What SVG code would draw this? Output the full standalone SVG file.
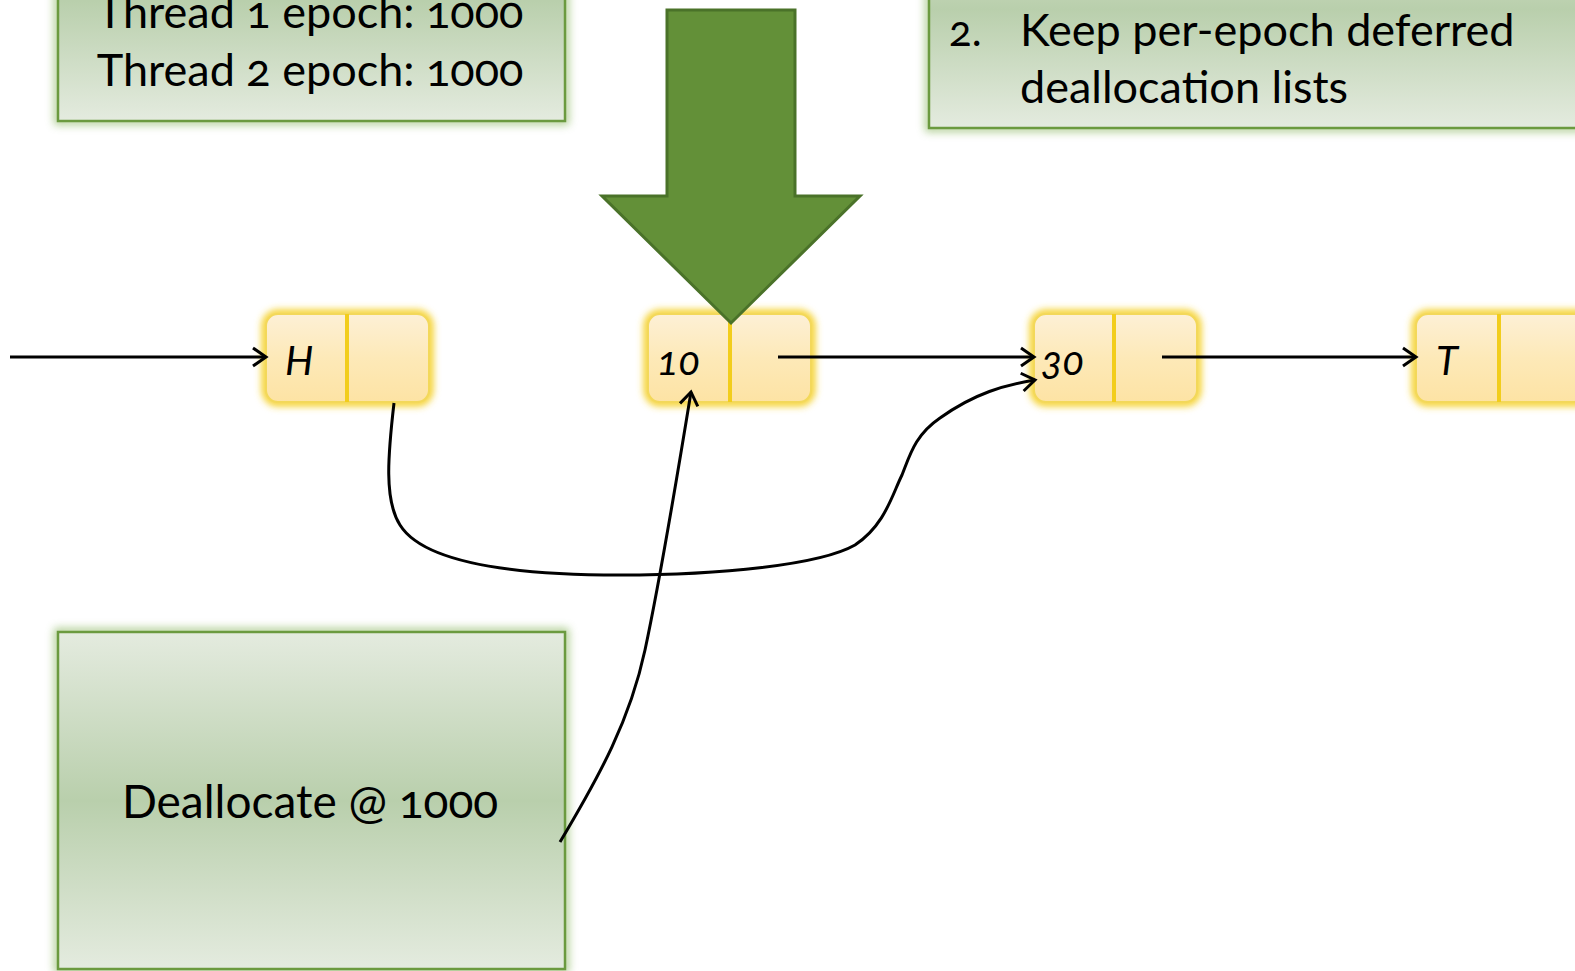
<svg xmlns="http://www.w3.org/2000/svg" width="1575" height="971" viewBox="0 0 1575 971">
<style>
.box{fill:url(#gBox);stroke:#6b9a3f;stroke-width:2.5}
.boxglow{fill:none;stroke:#9ec27a;stroke-width:8;filter:url(#blur4);opacity:0.8}
.txt{font-family:Lato,"Open Sans","Liberation Sans",sans-serif;fill:#000;font-variant-numeric:oldstyle-nums;font-feature-settings:"onum"}
.lbl{font-family:Lato,"Open Sans","Liberation Sans",sans-serif;font-style:italic;font-size:40px;fill:#000;font-feature-settings:"onum"}
.nglow{fill:none;stroke:#f5d12e;stroke-width:9;filter:url(#blur3)}
.nbody{fill:url(#gNode);stroke:#f3d85a;stroke-width:2}
.ndiv{fill:#f2cd1c}
.conn{fill:none;stroke:#000;stroke-width:3;marker-end:url(#arr)}
</style>
<defs>
<linearGradient id="gBox" x1="0" y1="0" x2="0" y2="1">
<stop offset="0" stop-color="#e4ebdf"/>
<stop offset="0.5" stop-color="#b9cfac"/>
<stop offset="1" stop-color="#e4ebdf"/>
</linearGradient>
<linearGradient id="gNode" x1="0" y1="0" x2="0" y2="1">
<stop offset="0" stop-color="#fdf0d6"/>
<stop offset="0.5" stop-color="#fde9b8"/>
<stop offset="1" stop-color="#fde3a4"/>
</linearGradient>
<filter id="blur4" x="-20%" y="-20%" width="140%" height="140%"><feGaussianBlur stdDeviation="4"/></filter>
<filter id="blur3" x="-20%" y="-40%" width="140%" height="180%"><feGaussianBlur stdDeviation="3.5"/></filter>
<marker id="arr" markerUnits="userSpaceOnUse" markerWidth="24" markerHeight="24" viewBox="0 0 24 24" refX="21" refY="12" orient="auto">
<path d="M8,3 L21,12 L8,21" fill="none" stroke="#000" stroke-width="3"/>
</marker>
</defs>
<rect width="1575" height="971" fill="#fff"/>

<g id="epochs">
<rect class="boxglow" x="58" y="-120" width="507" height="241"/>
<rect class="box" x="58" y="-120" width="507" height="241"/>
<text class="txt" x="310" y="28" font-size="45" text-anchor="middle">Thread 1 epoch: 1000</text>
<text class="txt" x="310" y="86" font-size="45" text-anchor="middle">Thread 2 epoch: 1000</text>
</g>

<g id="note">
<rect class="boxglow" x="929" y="-110" width="700" height="238"/>
<rect class="box" x="929" y="-110" width="700" height="238"/>
<text class="txt" x="949" y="46" font-size="42">2.</text>
<text class="txt" x="1020" y="46" font-size="45">Keep per-epoch deferred</text>
<text class="txt" x="1020" y="103" font-size="45">deallocation lists</text>
</g>

<g id="dealloc">
<rect class="boxglow" x="58" y="632" width="507" height="337"/>
<rect class="box" x="58" y="632" width="507" height="337"/>
<text class="txt" x="310" y="818" font-size="46" text-anchor="middle">Deallocate @ 1000</text>
</g>

<g id="nodeH">
<rect class="nglow" x="266" y="314" width="163" height="88" rx="12"/>
<rect class="nbody" x="266" y="314" width="163" height="88" rx="12"/>
<rect class="ndiv" x="345" y="314" width="4" height="88"/>
<text class="lbl" x="285" y="375">H</text>
</g>

<g id="node10">
<rect class="nglow" x="648" y="314" width="163" height="88" rx="12"/>
<rect class="nbody" x="648" y="314" width="163" height="88" rx="12"/>
<rect class="ndiv" x="728" y="314" width="4" height="88"/>
<text class="lbl" x="657" y="375">10</text>
</g>

<g id="node30">
<rect class="nglow" x="1034" y="314" width="163" height="88" rx="12"/>
<rect class="nbody" x="1034" y="314" width="163" height="88" rx="12"/>
<rect class="ndiv" x="1112" y="314" width="4" height="88"/>
<text class="lbl" x="1041" y="375">30</text>
</g>

<g id="nodeT">
<rect class="nglow" x="1416" y="314" width="175" height="88" rx="12"/>
<rect class="nbody" x="1416" y="314" width="175" height="88" rx="12"/>
<rect class="ndiv" x="1497" y="314" width="4" height="88"/>
<text class="lbl" x="1436" y="375">T</text>
</g>

<g id="bigArrow">
<polygon points="667,10 795,10 795,196 860,196 731,323 602,196 667,196" fill="#639038" stroke="#4a7229" stroke-width="3" stroke-linejoin="miter"/>
</g>

<g id="connectors">
<path class="conn" d="M10,357 L266,357"/>
<path class="conn" d="M778,357 L1034,357"/>
<path class="conn" d="M1162,357 L1416,357"/>
<path class="conn" d="M394,403 C388,455 384,500 400,525 C425,565 520,575 620,575 C720,575 820,565 855,545 C885,525 892,495 902,475 C910,455 915,435 940,418 C975,393 1005,385 1035,380"/>
<path class="conn" d="M560,842 C600,775 630,720 645,650 C660,580 675,490 691,392"/>
</g>
</svg>
